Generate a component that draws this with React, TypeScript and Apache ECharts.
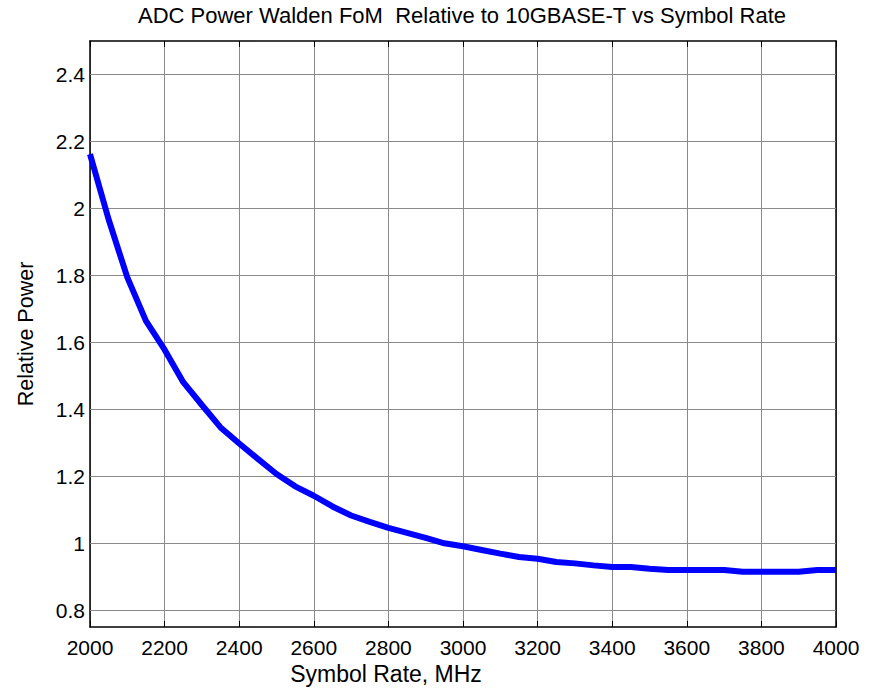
import React, { useEffect, useRef } from "react";
import * as echarts from "echarts";

const symbolRates = [
  2000, 2050, 2100, 2150, 2200, 2250, 2300, 2350, 2400, 2450, 2500, 2550, 2600, 2650,
  2700, 2750, 2800, 2850, 2900, 2950, 3000, 3050, 3100, 3150, 3200, 3250, 3300, 3350,
  3400, 3450, 3500, 3550, 3600, 3650, 3700, 3750, 3800, 3850, 3900, 3950, 4000,
];
const relativePower = [
  2.162, 1.967, 1.794, 1.664, 1.578, 1.481, 1.413, 1.346, 1.298, 1.252, 1.207, 1.17, 1.142, 1.11,
  1.083, 1.064, 1.046, 1.031, 1.016, 1.0, 0.991, 0.98, 0.969, 0.959, 0.954, 0.944, 0.94, 0.934,
  0.929, 0.929, 0.924, 0.92, 0.92, 0.92, 0.92, 0.915, 0.915, 0.915, 0.915, 0.92, 0.92,
];
const xTicks = [2000, 2200, 2400, 2600, 2800, 3000, 3200, 3400, 3600, 3800, 4000];
const xTickLabels = ["2000", "2200", "2400", "2600", "2800", "3000", "3200", "3400", "3600", "3800", "4000"];
const yTicks = [0.8, 1.0, 1.2, 1.4, 1.6, 1.8, 2.0, 2.2, 2.4];
const yTickLabels = ["0.8", "1", "1.2", "1.4", "1.6", "1.8", "2", "2.2", "2.4"];

const titleText = "ADC Power Walden FoM  Relative to 10GBASE-T vs Symbol Rate";
const xLabel = "Symbol Rate, MHz";
const yLabel = "Relative Power";

const FONT = "Liberation Sans, Arial, sans-serif";

export default function App() {
  const ref = useRef<HTMLDivElement>(null);
  useEffect(() => {
    document.body.style.margin = "0";
    const chart = echarts.init(ref.current!, null, { renderer: "svg" });
    const gridColor = "#8a8a8a";
    const option: any = {
      animation: false,
      backgroundColor: "#ffffff",
      textStyle: { fontFamily: FONT },
      grid: { left: 90, right: 39, top: 41, bottom: 63, containLabel: false },
      xAxis: [
        {
          type: "value",
          min: 2000,
          max: 4000,
          interval: 200,
          position: "bottom",
          axisLine: { show: true, onZero: false, lineStyle: { color: "#000", width: 1.5 } },
          axisTick: { show: true, inside: true, length: 6, lineStyle: { color: "#000" } },
          axisLabel: {
            show: true,
            margin: 10,
            fontSize: 21,
            color: "#000",
            fontFamily: FONT,
            showMinLabel: true,
            showMaxLabel: true,
            formatter: (v: number) => {
              const i = xTicks.findIndex((t) => Math.abs(t - v) < 1e-6);
              return i >= 0 ? xTickLabels[i] : "";
            },
          },
          splitLine: { show: true, lineStyle: { color: gridColor, width: 1 } },
        },
        {
          type: "value",
          min: 2000,
          max: 4000,
          interval: 200,
          position: "top",
          axisLine: { show: true, onZero: false, lineStyle: { color: "#000", width: 1.5 } },
          axisTick: { show: true, inside: true, length: 6, lineStyle: { color: "#000" } },
          axisLabel: { show: false },
          splitLine: { show: false },
        },
      ],
      yAxis: [
        {
          type: "value",
          min: 0.75,
          max: 2.5,
          position: "left",
          axisLine: { show: true, onZero: false, lineStyle: { color: "#000", width: 1.5 } },
          axisTick: { show: true, inside: true, length: 6, customValues: yTicks, lineStyle: { color: "#000" } },
          axisLabel: {
            show: true,
            margin: 5,
            fontSize: 21,
            color: "#000",
            fontFamily: FONT,
            customValues: yTicks,
            formatter: (v: number) => {
              const i = yTicks.findIndex((t) => Math.abs(t - v) < 1e-6);
              return i >= 0 ? yTickLabels[i] : "";
            },
          },
          splitLine: { show: false },
        },
        {
          type: "value",
          min: 0.75,
          max: 2.5,
          position: "right",
          axisLine: { show: true, onZero: false, lineStyle: { color: "#000", width: 1.5 } },
          axisTick: { show: true, inside: true, length: 6, customValues: yTicks, lineStyle: { color: "#000" } },
          axisLabel: { show: false },
          splitLine: { show: false },
        },
      ],
      graphic: [
        {
          type: "text",
          x: 462,
          y: 15,
          style: {
            text: titleText,
            fontSize: 22,
            fontFamily: FONT,
            fill: "#000",
            textAlign: "center",
            textVerticalAlign: "middle",
          },
        },
        {
          type: "text",
          x: 386,
          y: 674,
          style: {
            text: xLabel,
            fontSize: 23,
            fontFamily: FONT,
            fill: "#000",
            textAlign: "center",
            textVerticalAlign: "middle",
          },
        },
        {
          type: "text",
          x: 26,
          y: 334,
          rotation: Math.PI / 2,
          style: {
            text: yLabel,
            fontSize: 21.5,
            fontFamily: FONT,
            fill: "#000",
            textAlign: "center",
            textVerticalAlign: "middle",
          },
        },
      ],
      series: [
        {
          type: "line",
          name: "grid",
          xAxisIndex: 0,
          yAxisIndex: 0,
          data: [],
          z: 1,
          silent: true,
          markLine: {
            z: 1,
            silent: true,
            symbol: ["none", "none"],
            label: { show: false },
            lineStyle: { color: gridColor, type: "solid", width: 1 },
            emphasis: { disabled: true },
            data: yTicks.map((v) => ({ yAxis: v })),
          },
        },
        {
          type: "line",
          name: "Relative Power",
          xAxisIndex: 0,
          yAxisIndex: 0,
          z: 3,
          showSymbol: false,
          symbol: "none",
          data: symbolRates.map((r, i) => [r, relativePower[i]]),
          lineStyle: { color: "#0000ff", width: 6 },
          itemStyle: { color: "#0000ff" },
        },
      ],
    };
    chart.setOption(option);
    return () => chart.dispose();
  }, []);
  return <div ref={ref} style={{ width: 875, height: 690 }} />;
}
